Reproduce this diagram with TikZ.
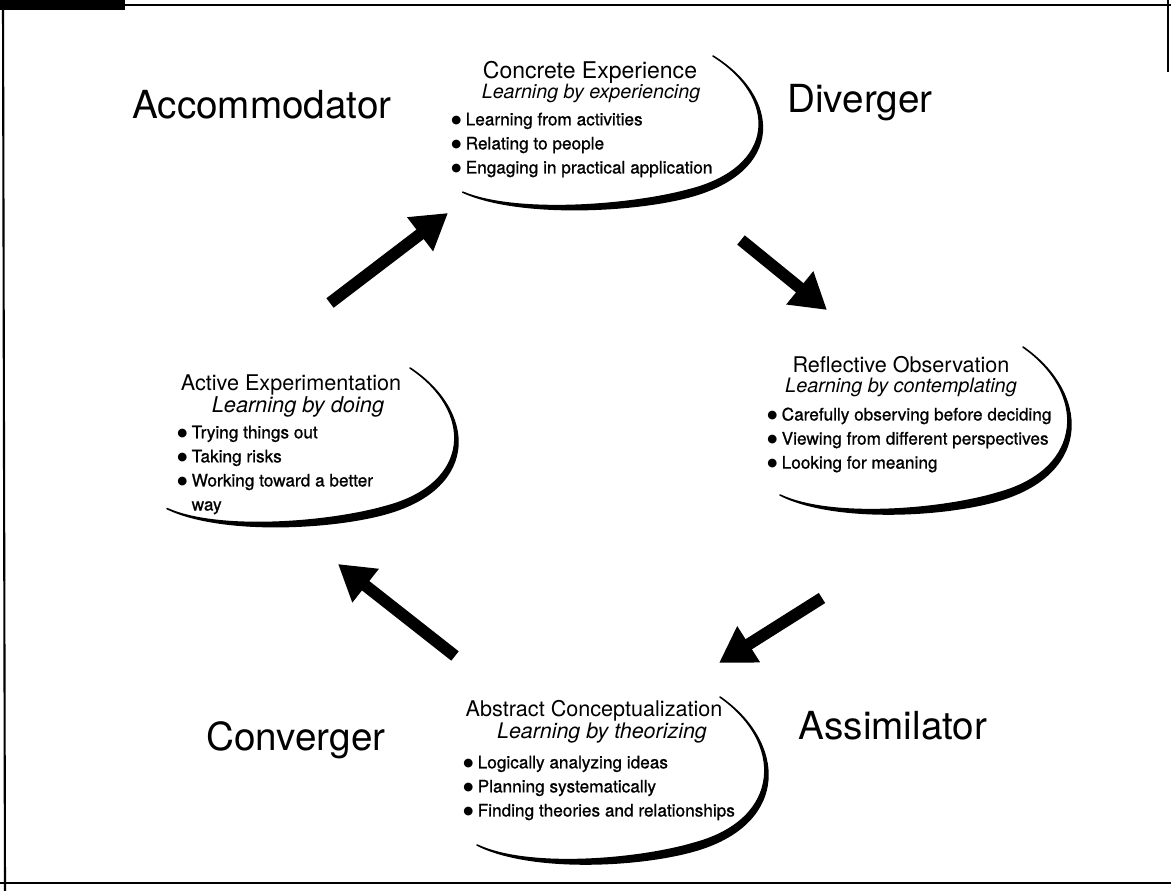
\documentclass[tikz,border=0pt]{standalone}
\usepackage{fontspec}
\setmainfont{TeX Gyre Heros}
\newfontfamily\itemfont[FakeBold=1]{TeX Gyre Heros}
\newfontfamily\dotfont{DejaVu Sans}
\usetikzlibrary{arrows.meta, positioning}
\newcommand{\dotitem}{\raisebox{1.1pt}{\dotfont\fontsize{6.5}{6.5}\selectfont ●}\hspace{2.5pt}}

\begin{document}
\begin{tikzpicture}[
    x=0.02cm, y=-0.02cm,
    learner/.style={font=\fontsize{22}{26}\selectfont, inner sep=0pt},
    stage/.style={font=\fontsize{#1}{14}\selectfont, inner sep=0pt},
    stage/.default=12.3,
    mode/.style={font=\fontsize{#1}{14}\selectfont\itshape, inner sep=0pt},
    mode/.default=11.3,
    points/.style={align=left, anchor=west, inner sep=0pt, font=\itemfont\fontsize{9.8}{13.7}\selectfont},
    flow/.style={line width=6.8pt, -{Triangle[length=20pt, width=23pt]}},
    border/.style={line width=1.2pt},
    swoosh/.pic={
        \filldraw[line width=0.9pt, line join=round]
            (0,0) .. controls (65,45) and (70,125) .. (-23,153)
            .. controls (-80,170) and (-190,175) .. (-243,148)
            .. controls (-192,172) and (-82,163) .. (-25,146)
            .. controls (63,122) and (64,45) .. (0,0) -- cycle;
    },
]
\useasboundingbox (0,0) rectangle (1171,891);

% frame of the scanned page
\fill (0,0) rectangle (125,10);
\draw[border] (125,5) -- (1171,5);
\draw[border] (1168,0) -- (1168,72);
\draw[border] (3,0) -- (5,891);
\draw[border] (0,883) -- (1171,883);

% learning styles
\node[learner] (accom) at (262,105) {Accommodator};
\node[learner] (diver) at (860,103) {Diverger};
\node[learner] (conver) at (296,740) {Converger};
\node[learner] (assim) at (893,726) {Assimilator};

% Concrete Experience
\pic[xscale=1.03, yscale=0.92] at (713,56) {swoosh};
\node[stage=13.1] (ce) at (590,72) {Concrete Experience};
\node[mode=11.2] (ce-mode) at (591,93) {Learning by experiencing};
\node[points] (ce-list) at (451,145) {\dotitem Learning from activities\\ \dotitem Relating to people\\ \dotitem Engaging in practical application};

% Reflective Observation
\pic at (1023,347) {swoosh};
\node[stage] (ro) at (901,365) {Reflective Observation};
\node[mode] (ro-mode) at (901,387) {Learning by contemplating};
\node[points] (ro-list) at (767,440) {\dotitem Carefully observing before deciding\\ \dotitem Viewing from different perspectives\\ \dotitem Looking for meaning};

% Abstract Conceptualization
\pic at (720,697) {swoosh};
\node[stage] (ac) at (594,711) {Abstract Conceptualization};
\node[mode=12.2] (ac-mode) at (602,733) {Learning by theorizing};
\node[points] (ac-list) at (463,788) {\dotitem Logically analyzing ideas\\ \dotitem Planning systematically\\ \dotitem Finding theories and relationships};

% Active Experimentation
\pic[yscale=0.95] at (410,368) {swoosh};
\node[stage] (ae) at (291,385) {Active Experimentation};
\node[mode=12.4] (ae-mode) at (298,407) {Learning by doing};
\node[points] (ae-list) at (177,470) {\dotitem Trying things out\\ \dotitem Taking risks\\ \dotitem Working toward a better\\ \phantom{\dotitem}way};

% cycle arrows
\coordinate (toce-tail) at (330,303);
\coordinate (toce-tip) at (448,213);
\coordinate (toro-tail) at (741,240);
\coordinate (toro-tip) at (827,310);
\coordinate (toac-tail) at (822,598);
\coordinate (toac-tip) at (719,663);
\coordinate (toae-tail) at (455,656);
\coordinate (toae-tip) at (338,564);
\draw[flow] (toce-tail) -- (toce-tip);
\draw[flow] (toro-tail) -- (toro-tip);
\draw[flow] (toac-tail) -- (toac-tip);
\draw[flow] (toae-tail) -- (toae-tip);

\end{tikzpicture}
\end{document}
